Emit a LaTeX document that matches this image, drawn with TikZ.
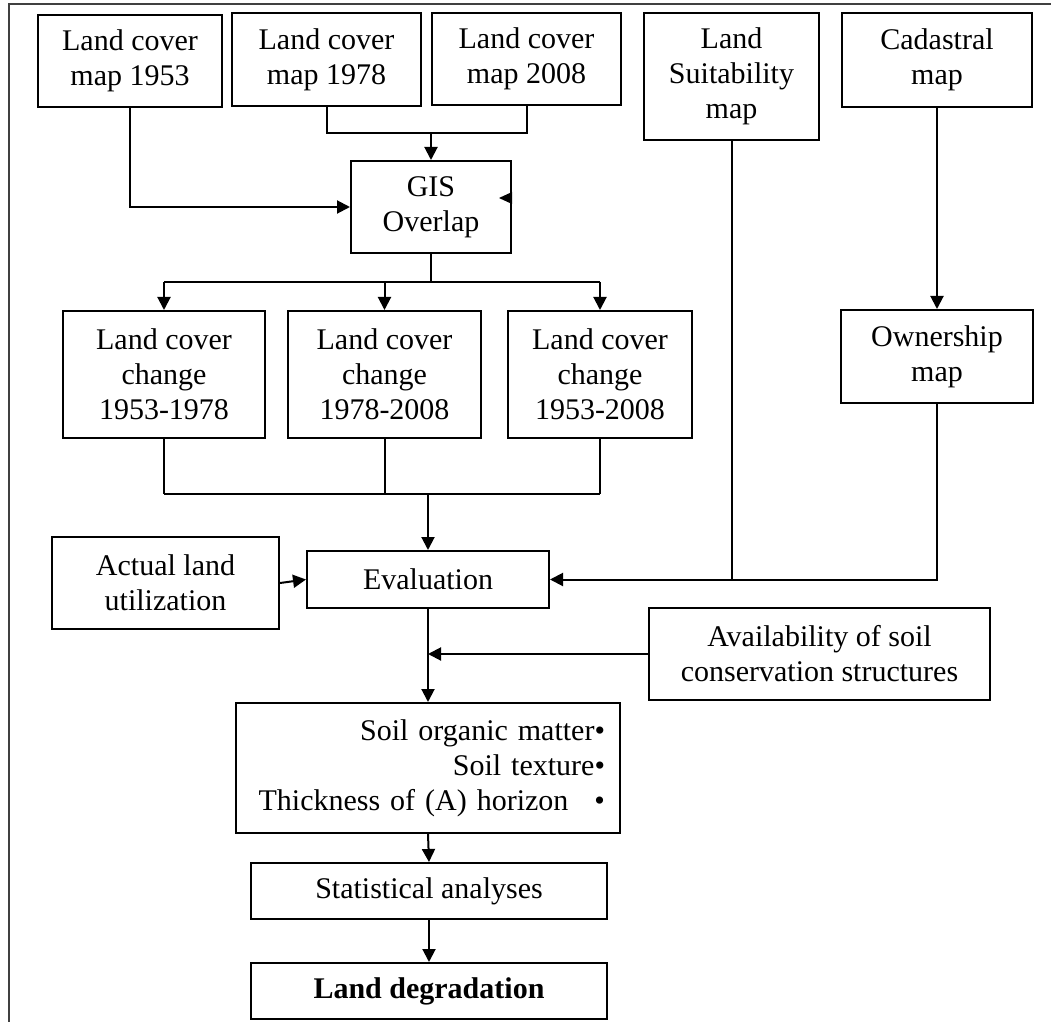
\documentclass[tikz,border=0pt]{standalone}
\usepackage{fontspec}
\setmainfont{Liberation Serif}
\usetikzlibrary{arrows.meta, calc, positioning}
\tikzset{
    box/.style = {
      draw, line width=1pt, align=center, inner sep=2pt,
      font=\fontsize{15pt}{17.5pt}\selectfont,
    },
    link/.style = {line width=1pt},
    arrow/.style = {link, arrows={-Triangle[length=6.5pt, width=6.5pt]}},
    frame/.style = {line width=1pt, draw=black!75!white},
}

\begin{document}
\begin{tikzpicture}[x=0.5pt, y=-0.5pt]
  \useasboundingbox (0,0) rectangle (1051,1022);
  \draw [frame] (1051,4) -- (9,4) -- (9,1022);

  % Input maps
  \node (lc1953) [box, minimum width=92pt, minimum height=46pt] at (130,61)
    {Land cover\\map 1953};
  \node (lc1978) [box, minimum width=94.5pt, minimum height=46.5pt] at (326.5,59.5)
    {Land cover\\map 1978};
  \node (lc2008) [box, minimum width=94.5pt, minimum height=46pt] at (526.5,59)
    {Land cover\\map 2008};
  \node (suit) [box, minimum width=87.5pt, minimum height=63.5pt] at (731.5,76.5)
    {Land\\Suitability\\map};
  \node (cad) [box, minimum width=95pt, minimum height=47pt] at (937,60)
    {Cadastral\\map};

  \node (gis) [box, minimum width=80pt, minimum height=46pt] at (431,207)
    {GIS\\Overlap};

  % Change maps
  \node (change1) [box, minimum width=101pt, minimum height=63.5pt] at (164,374.5)
    {Land cover\\change\\1953-1978};
  \node (change2) [box, minimum width=96.5pt, minimum height=63.5pt] at (384.5,374.5)
    {Land cover\\change\\1978-2008};
  \node (change3) [box, minimum width=92pt, minimum height=63.5pt] at (600,374.5)
    {Land cover\\change\\1953-2008};
  \node (own) [box, minimum width=96pt, minimum height=46.5pt] at (937,356.5)
    {Ownership\\map};

  \node (eval) [box, minimum width=121pt, minimum height=28.5pt] at (428,579.5)
    {Evaluation};
  \node (alu) [box, minimum width=113.5pt, minimum height=46pt] at (165.5,583)
    {Actual land\\utilization};
  \node (avail) [box, minimum width=170.5pt, minimum height=46pt] at (819.5,654)
    {Availability of soil\\conservation structures};

  \node (soil) [box, minimum width=192pt, minimum height=65pt, text width=177pt,
                align=right] at (428,768)
    {Soil organic matter\textbullet\\Soil texture\textbullet\\%
     Thickness of (A) horizon\hspace{13pt}\textbullet};
  \node (stats) [box, minimum width=178pt, minimum height=28pt] at (429,891)
    {Statistical analyses};
  \node (deg) [box, minimum width=178pt, minimum height=28pt] at (429,991)
    {\textbf{Land degradation}};

  % Into the overlap
  \coordinate (gisin) at (431,133);
  \draw [link] (lc1978.south) |- (gisin) -| (lc2008.south);
  \draw [arrow] (gisin) -- (gis.north);
  \draw [arrow] (lc1953.south) |- (gis.west);
  \fill ($(gis.east)+(0,-15)$) -- ++(-13,6) -- ++(13,6) -- cycle;

  % Out of the overlap
  \coordinate (gisout) at (431,282);
  \draw [link] (gis.south) -- (gisout);
  \draw [link] (change1.north |- gisout) -- (change3.north |- gisout);
  \foreach \c in {1,2,3}{
    \draw [arrow] (change\c.north |- gisout) -- (change\c.north);
  }

  % Into the evaluation
  \coordinate (evalin) at (428,494);
  \foreach \c in {1,2,3}{
    \draw [link] (change\c.south) -- (change\c.south |- evalin);
  }
  \draw [link] (change1.south |- evalin) -- (change3.south |- evalin);
  \draw [arrow] (evalin) -- (eval.north);
  \draw [arrow] (cad.south) -- (own.north);
  \draw [link] (suit.south) -- (suit.south |- eval.east);
  \draw [arrow] (own.south) |- (eval.east);
  \draw [arrow] (alu.east) -- (eval.west);

  \coordinate (soilin) at (eval.south |- avail.west);
  \draw [arrow] (avail.west) -- (soilin);
  \draw [arrow] (eval.south) -- (soil.north);
  \draw [arrow] (soil.south) -- (stats.north);
  \draw [arrow] (stats.south) -- (deg.north);
\end{tikzpicture}
\end{document}
